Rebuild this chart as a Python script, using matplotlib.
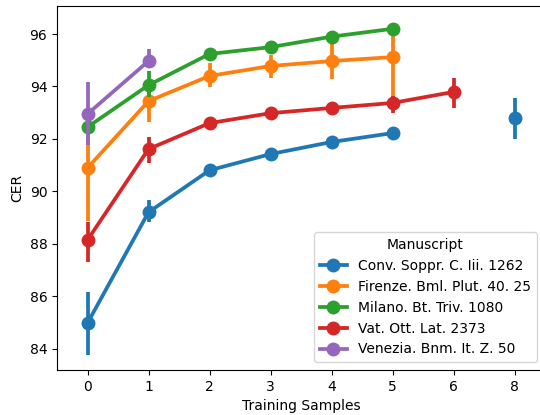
import numpy as np
import matplotlib
matplotlib.use("Agg")
import matplotlib.pyplot as plt

# training-sample categories (categorical axis, no 7)
samples = ["0", "1", "2", "3", "4", "5", "6", "8"]

manuscripts = ["Conv. Soppr. C. Iii. 1262", "Firenze. Bml. Plut. 40. 25",
               "Milano. Bt. Triv. 1080", "Vat. Ott. Lat. 2373",
               "Venezia. Bnm. It. Z. 50"]
colors = ["#1f77b4", "#ff7f0e", "#2ca02c", "#d62728", "#9467bd"]

nan = np.nan
# mean CER per category
conv_mean = [84.97, 89.2, 90.8, 91.42, 91.88, 92.22, nan, 92.79]
fire_mean = [90.89, 93.44, 94.4, 94.78, 94.97, 95.12, nan, nan]
mila_mean = [92.45, 94.05, 95.24, 95.5, 95.9, 96.2, nan, nan]
vat_mean = [88.14, 91.61, 92.6, 92.98, 93.18, 93.37, 93.79, nan]
ven_mean = [92.95, 94.97, nan, nan, nan, nan, nan, nan]

# confidence interval low / high
conv_lo = [83.75, 88.82, 90.7, 91.32, 91.78, 92.12, nan, 91.99]
conv_hi = [86.15, 89.66, 90.9, 91.52, 91.98, 92.32, nan, 93.56]
fire_lo = [88.85, 92.64, 93.98, 94.32, 94.28, 93.4, nan, nan]
fire_hi = [92.9, 94.2, 94.89, 95.2, 95.92, 96.3, nan, nan]
mila_lo = [92.0, 93.6, 95.0, 95.38, 95.78, 95.96, nan, nan]
mila_hi = [92.9, 94.6, 95.47, 95.62, 96.02, 96.38, nan, nan]
vat_lo = [87.3, 91.08, 92.48, 92.86, 93.06, 92.98, 93.18, nan]
vat_hi = [88.84, 92.07, 92.72, 93.1, 93.3, 93.63, 94.32, nan]
ven_lo = [91.76, 94.74, nan, nan, nan, nan, nan, nan]
ven_hi = [94.18, 95.42, nan, nan, nan, nan, nan, nan]

means = [conv_mean, fire_mean, mila_mean, vat_mean, ven_mean]
lows = [conv_lo, fire_lo, mila_lo, vat_lo, ven_lo]
highs = [conv_hi, fire_hi, mila_hi, vat_hi, ven_hi]

fig = plt.figure(figsize=(5.4, 4.15), dpi=100)
ax = fig.add_axes([57 / 540, 1 - 370 / 415, 488 / 540, 364 / 415])

pos = np.arange(len(samples))
for name, c, m, lo, hi in zip(manuscripts, colors, means, lows, highs):
    m = np.array(m, dtype=float)
    lo = np.array(lo, dtype=float)
    hi = np.array(hi, dtype=float)
    ok = ~np.isnan(lo)
    ax.vlines(pos[ok], lo[ok], hi[ok], color=c, lw=2.7)
    ax.plot(pos, m, color=c, lw=2.7, marker="o", markersize=9, label=name)

ax.set_xticks(pos)
ax.set_xticklabels(samples)
ax.set_xlim(-0.5, len(samples) - 0.5)
ax.set_ylim(83.18, 97.07)
ax.set_xlabel("Training Samples")
ax.set_ylabel("CER")
ax.legend(title="Manuscript", loc="lower right", borderaxespad=0,
          bbox_to_anchor=(537 / 540, 1 - 362 / 415),
          bbox_transform=fig.transFigure)

fig.savefig("out.png", dpi=100)
